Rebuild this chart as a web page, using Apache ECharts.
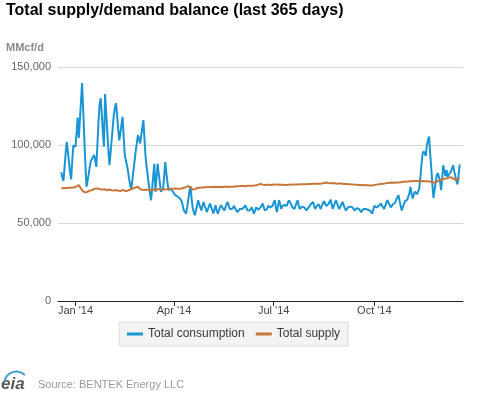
<!DOCTYPE html>
<html>
<head>
<meta charset="utf-8">
<script src="https://cdn.jsdelivr.net/npm/echarts@6/dist/echarts.min.js"></script>
<style>
html,body{margin:0;padding:0;background:#fff;}
#chart{width:477px;height:393px;}
</style>
</head>
<body>
<div id="chart"></div>
<script>
// Daily data, 365 days from 2013-12-19 to 2014-12-18 (MMcf/d)
var startDate = '2013-12-19';
var dayCount = 365;

var consumption = [
  82500, 79000, 77000, 86000, 95000, 102000, 96000, 89000, 83000, 78000,
  90000, 99600, 100000, 99000, 108000, 117600, 104500, 116000, 128000, 139700,
  123000, 105000, 88000, 73200, 77000, 81000, 86000, 89700, 91000, 92000,
  93600, 90000, 86000, 100000, 115000, 126000, 130000, 120000, 108000, 99000,
  132600, 121000, 109000, 97000, 87000, 95000, 103000, 111000, 119000, 124000,
  126800, 119000, 110000, 103000, 108000, 113000, 118000, 105000, 93600, 90000,
  87000, 83000, 78000, 74300, 72000, 78000, 84000, 90000, 96000, 101000,
  106400, 104000, 101000, 106000, 111000, 116000, 104000, 92500, 86000, 80000,
  74300, 69000, 64600, 72000, 80000, 88000, 70000, 79000, 88000, 82000,
  76000, 70000, 71000, 72000, 80000, 89000, 82000, 76000, 71000, 72000,
  72000, 71000, 70000, 69000, 68000, 69000, 67000, 66800, 66000, 65000,
  64000, 61000, 58000, 57000, 56000, 60000, 65000, 70000, 73600, 66000,
  60000, 57000, 55000, 58000, 61000, 64600, 62000, 60000, 58000, 61000,
  63500, 61000, 59000, 57000, 59000, 61000, 62500, 60000, 58000, 56000,
  59000, 61400, 58000, 56000, 58000, 60000, 61400, 60000, 59000, 58000,
  60000, 62000, 63500, 61000, 59000, 58000, 59000, 60000, 61000, 59000,
  58000, 57000, 58000, 59000, 60000, 59000, 58000, 60000, 61400, 60000,
  58000, 57000, 58000, 59000, 60000, 58000, 56000, 58000, 60000, 59000,
  58500, 58000, 60000, 61000, 62500, 60000, 58000, 57000, 59000, 61000,
  62000, 60000, 59000, 61000, 63000, 64600, 60000, 57000, 61000, 64600,
  62000, 59000, 61000, 62000, 61500, 61000, 61000, 63000, 64500, 65700,
  62000, 60000, 59500, 59000, 61000, 63000, 64600, 61000, 59000, 60000,
  60500, 61000, 60000, 59000, 58000, 59000, 60000, 61000, 62000, 63000,
  63500, 61000, 59000, 60500, 61500, 62000, 60500, 59000, 61000, 62500,
  64000, 62500, 61000, 60000, 62000, 63500, 65000, 62000, 59000, 61000,
  63000, 64600, 62500, 60500, 59000, 60500, 62000, 63500, 61500, 59500,
  58000, 59000, 60000, 61000, 60500, 60000, 60000, 59000, 58000, 59000,
  59500, 60000, 59000, 58000, 57000, 58000, 59000, 60000, 59000, 58000,
  58500, 59000, 58000, 57000, 56000, 58500, 61000, 60500, 60000, 60000,
  61000, 62000, 62500, 61000, 60000, 59000, 61000, 63000, 64600, 63000,
  61500, 60000, 61000, 62000, 62500, 63000, 65000, 66500, 67900, 64500,
  61000, 58000, 60000, 62000, 64000, 64500, 64800, 65000, 69000, 73200,
  69000, 65700, 68000, 70000, 69000, 68500, 68000, 72000, 79000, 87000,
  94000, 96000, 94500, 93000, 100000, 103000, 105400, 94700, 85000, 75000,
  66000, 71000, 76000, 80700, 82000, 82800, 77000, 71000, 79000, 87000,
  83000, 80000, 84000, 79600, 81000, 82000, 83000, 85000, 87000, 83000,
  80000, 77000, 74700, 81000, 87600
];

var supply = [
  72200, 72000, 72300, 72500, 72400, 72600, 72500, 72800, 72600, 72900,
  72700, 73000, 72800, 73200, 73500, 74000, 74300, 73200, 72000, 71000,
  70200, 69800, 69600, 69700, 70000, 70500, 70800, 71200, 71000, 71500,
  71800, 72000, 72200, 71800, 72000, 71600, 71400, 71800, 71500, 71300,
  71600, 71200, 71000, 71500, 71500, 71200, 71000, 71300, 70800, 71000,
  71200, 70900, 70600, 70800, 70500, 70900, 71200, 71000, 70700, 71000,
  70500, 70800, 71200, 71000, 71600, 72000, 72300, 72500, 72800, 73000,
  73200, 72600, 71800, 71500, 71300, 71600, 71200, 71000, 71400, 71500,
  71200, 70800, 71000, 71400, 71600, 71300, 71000, 71400, 71600, 71500,
  71800, 71400, 71200, 71600, 71500, 71300, 71600, 71500, 71800, 71700,
  71900, 71800, 72000, 71800, 72100, 71900, 72000, 72200, 72000, 72300,
  72100, 72400, 72600, 72800, 73000, 73300, 73600, 73400, 73000, 72200,
  71400, 71000, 71600, 72200, 72500, 72800, 72600, 72800, 72700, 72900,
  72800, 73000, 72900, 72800, 73000, 72900, 73100, 73000, 72900, 73100,
  73200, 73000, 73100, 73300, 73100, 73000, 73200, 73300, 73100, 73200,
  73400, 73200, 73100, 73300, 73200, 73400, 73300, 73500, 73300, 73400,
  73600, 73400, 73600, 73500, 73700, 73600, 73800, 73700, 73600, 73800,
  73900, 73700, 73900, 74000, 73800, 74000, 74100, 73900, 74200, 74400,
  74600, 74800, 75000, 74800, 74600, 74500, 74400, 74600, 74500, 74300,
  74500, 74600, 74400, 74500, 74700, 74500, 74600, 74800, 74600, 74700,
  74500, 74400, 74600, 74500, 74300, 74500, 74400, 74600, 74500, 74700,
  74600, 74400, 74600, 74800, 74700, 74500, 74700, 74900, 74800, 74600,
  74800, 75000, 74900, 74700, 74900, 75100, 75000, 74800, 75000, 75200,
  75100, 74900, 75100, 75300, 75200, 75000, 75200, 75400, 75300, 75500,
  75700, 75800, 76000, 75800, 75600, 75700, 75500, 75400, 75600, 75300,
  75500, 75400, 75200, 75400, 75300, 75100, 75300, 75200, 75000, 75200,
  75100, 75000, 74900, 75100, 74800, 75000, 74700, 74900, 74600, 74800,
  74500, 74700, 74400, 74600, 74300, 74500, 74200, 74400, 74300, 74500,
  74200, 74400, 74100, 74300, 74000, 74200, 74400, 74300, 74600, 74500,
  74800, 74700, 75000, 74900, 75200, 75100, 75400, 75300, 75600, 75500,
  75800, 75700, 75900, 76000, 75800, 76100, 75900, 76200, 76000, 76300,
  76100, 76200, 76400, 76200, 76500, 76300, 76600, 76400, 76700, 76500,
  76800, 76600, 76900, 76700, 77000, 76800, 76900, 77100, 76800, 77000,
  76900, 76700, 76800, 76500, 76700, 76400, 76600, 76300, 76500, 76200,
  76000, 76200, 76000, 76400, 76800, 77200, 77500, 77800, 78000, 78200,
  78400, 78600, 78500, 78800, 79000, 79300, 79400, 79000, 78500, 78000,
  77600, 77900, 78200, 78500, 78600
];

var yTicks = [0, 50000, 100000, 150000];
var xTickDates = ['2014-01-01', '2014-04-01', '2014-07-01', '2014-10-01'];
var xTickLabels = ["Jan '14", "Apr '14", "Jul '14", "Oct '14"];
var seriesNames = ['Total consumption', 'Total supply'];

var DAY = 86400000;
function utc(s) { var p = s.split('-'); return Date.UTC(+p[0], +p[1] - 1, +p[2]); }
var t0 = utc(startDate);
var dates = [];
for (var i = 0; i < dayCount; i++) dates.push(t0 + i * DAY);
var tickTimes = xTickDates.map(utc);

function pairs(vals) { return vals.map(function (v, i) { return [dates[i], v]; }); }

var chart = echarts.init(document.getElementById('chart'), null, { renderer: 'canvas' });
var FONT = '"Liberation Sans", Arial, sans-serif';

chart.setOption({
  animation: false,
  backgroundColor: '#ffffff',
  textStyle: { fontFamily: FONT },
  grid: { left: 58, right: 14, top: 67, bottom: 92, containLabel: false },
  xAxis: {
    type: 'value',
    scale: true,
    min: t0 - 3 * DAY,
    max: t0 + 367 * DAY,
    axisLine: { show: true, onZero: false, lineStyle: { color: '#222', width: 1 } },
    axisTick: { show: true, length: 5, customValues: tickTimes, lineStyle: { color: '#222' } },
    splitLine: { show: false },
    axisLabel: {
      customValues: tickTimes,
      margin: 4,
      color: '#444',
      fontSize: 11,
      fontFamily: FONT,
      formatter: function (v) {
        var k = tickTimes.indexOf(v);
        return k >= 0 ? xTickLabels[k] : '';
      }
    }
  },
  yAxis: {
    type: 'value',
    min: 0,
    max: 150000,
    interval: 50000,
    axisLine: { show: false },
    axisTick: { show: false },
    splitLine: { show: true, lineStyle: { color: '#d6d6d6', width: 1 } },
    axisLabel: {
      margin: 7,
      color: '#666',
      fontSize: 11,
      fontFamily: FONT,
      formatter: function (v) { return v.toLocaleString('en-US'); }
    }
  },
  legend: {
    data: seriesNames,
    left: 119,
    top: 322,
    icon: 'rect',
    itemWidth: 16,
    itemHeight: 3,
    itemGap: 11,
    padding: [6, 8, 6, 8],
    backgroundColor: '#f3f3f3',
    borderColor: '#dcdcdc',
    borderWidth: 1,
    textStyle: { color: '#3a3a3a', fontSize: 12, fontFamily: FONT }
  },
  series: [
    {
      name: seriesNames[0],
      type: 'line',
      data: pairs(consumption),
      showSymbol: false,
      symbol: 'none',
      color: '#1a95d3',
      lineStyle: { color: '#1a95d3', width: 2 },
      z: 2
    },
    {
      name: seriesNames[1],
      type: 'line',
      data: pairs(supply),
      showSymbol: false,
      symbol: 'none',
      color: '#c7773a',
      lineStyle: { color: '#c7773a', width: 2 },
      z: 3
    }
  ],
  graphic: [
    {
      type: 'text', left: 6, top: 3,
      style: { text: 'Total supply/demand balance (last 365 days)', font: 'bold 16px ' + FONT, fill: '#000' }
    },
    {
      type: 'text', left: 6, top: 42,
      style: { text: 'MMcf/d', font: 'bold 11px ' + FONT, fill: '#8a8a8a' }
    },
    {
      type: 'text', left: 38, top: 379,
      style: { text: 'Source: BENTEK Energy LLC', font: '11px ' + FONT, fill: '#999' }
    },
    {
      type: 'text', left: 1, top: 376,
      style: { text: 'eia', font: 'bold italic 17px ' + FONT, fill: '#5a5a5a' }
    },
    {
      type: 'arc', left: 2, top: 369,
      shape: { cx: 14, cy: 14, r: 12, startAngle: Math.PI * 1.05, endAngle: Math.PI * 1.75 },
      style: { stroke: '#3fa0c8', lineWidth: 2, fill: null }
    }
  ]
});
</script>
</body>
</html>
